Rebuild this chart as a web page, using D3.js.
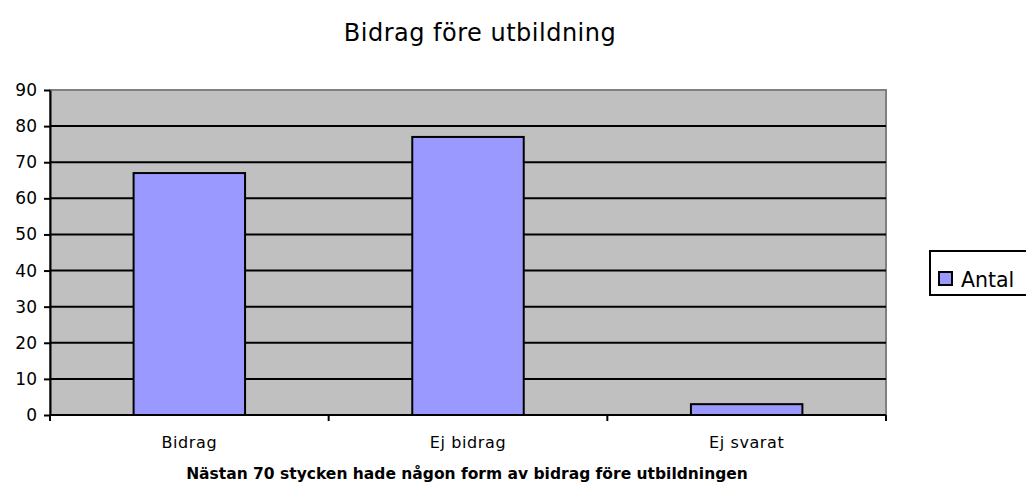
<!DOCTYPE html>
<html>
<head>
<meta charset="utf-8">
<script src="https://cdn.jsdelivr.net/npm/d3@7"></script>
<style>
  body { margin: 0; background: #fff; }
  svg { display: block; font-family: "DejaVu Sans", sans-serif; }
</style>
</head>
<body>
<svg width="1026" height="487"></svg>
<script>
// chart data
let categories = ["Bidrag", "Ej bidrag", "Ej svarat"];
let antal = [67, 77, 3];
let yTicks = [0, 10, 20, 30, 40, 50, 60, 70, 80, 90];
let title = "Bidrag före utbildning";
let caption = "Nästan 70 stycken hade någon form av bidrag före utbildningen";
let seriesName = "Antal";

let svg = d3.select("svg");

let plot = { left: 50, right: 886, top: 90, bottom: 415 };

let x = d3.scaleBand()
    .domain(categories)
    .range([plot.left, plot.right])
    .paddingInner(0)
    .paddingOuter(0);

let y = d3.scaleLinear()
    .domain([0, 90])
    .range([plot.bottom, plot.top]);

// plot background
svg.append("rect")
    .attr("x", plot.left)
    .attr("y", plot.top)
    .attr("width", plot.right - plot.left)
    .attr("height", plot.bottom - plot.top)
    .attr("fill", "#c0c0c0")
    .attr("stroke", "#808080")
    .attr("stroke-width", 2);

// gridlines
svg.append("g")
    .selectAll("line")
    .data(yTicks.filter(d => d > 0 && d < 90))
    .enter().append("line")
    .attr("x1", plot.left)
    .attr("x2", plot.right)
    .attr("y1", d => y(d))
    .attr("y2", d => y(d))
    .attr("stroke", "#000")
    .attr("stroke-width", 2);

// bars (gap width 150%)
let barW = x.bandwidth() / 2.5;
svg.append("g")
    .selectAll("rect")
    .data(categories)
    .enter().append("rect")
    .attr("x", d => x(d) + (x.bandwidth() - barW) / 2)
    .attr("y", (d, i) => y(antal[i]))
    .attr("width", barW)
    .attr("height", (d, i) => y(0) - y(antal[i]))
    .attr("fill", "#9999ff")
    .attr("stroke", "#000")
    .attr("stroke-width", 2);

// y axis
let yAxis = svg.append("g")
    .attr("transform", "translate(" + plot.left + ",0)")
    .call(d3.axisLeft(y).tickValues(yTicks).tickSize(6).tickSizeOuter(0));
yAxis.select(".domain").attr("stroke", "#000").attr("stroke-width", 2);
yAxis.selectAll(".tick line").attr("stroke", "#000").attr("stroke-width", 2);
yAxis.selectAll(".tick text")
    .attr("x", -13)
    .attr("font-family", "DejaVu Sans")
    .attr("font-size", 17)
    .attr("fill", "#000");

// x axis, ticks at category boundaries
let xAxis = svg.append("g")
    .attr("transform", "translate(0," + plot.bottom + ")");
xAxis.append("line")
    .attr("x1", plot.left)
    .attr("x2", plot.right)
    .attr("stroke", "#000")
    .attr("stroke-width", 2);
let bounds = categories.map(d => x(d)).concat([plot.right]);
xAxis.selectAll(".btick")
    .data(bounds)
    .enter().append("line")
    .attr("class", "btick")
    .attr("x1", d => d)
    .attr("x2", d => d)
    .attr("y1", 0)
    .attr("y2", 6)
    .attr("stroke", "#000")
    .attr("stroke-width", 2);
xAxis.selectAll("text")
    .data(categories)
    .enter().append("text")
    .attr("x", d => x(d) + x.bandwidth() / 2)
    .attr("y", 33)
    .attr("text-anchor", "middle")
    .attr("font-size", 16)
    .attr("letter-spacing", 0.6)
    .text(d => d);

// title
svg.append("text")
    .attr("x", 480)
    .attr("y", 41)
    .attr("text-anchor", "middle")
    .attr("font-size", 24)
    .attr("letter-spacing", 0.5)
    .text(title);

// caption
svg.append("text")
    .attr("x", 467)
    .attr("y", 479)
    .attr("text-anchor", "middle")
    .attr("font-size", 15.5)
    .attr("font-weight", "bold")
    .text(caption);

// legend
let legend = svg.append("g");
legend.append("rect")
    .attr("x", 930)
    .attr("y", 251)
    .attr("width", 110)
    .attr("height", 44)
    .attr("fill", "#fff")
    .attr("stroke", "#000")
    .attr("stroke-width", 2);
legend.append("rect")
    .attr("x", 939)
    .attr("y", 272)
    .attr("width", 13)
    .attr("height", 13)
    .attr("fill", "#9999ff")
    .attr("stroke", "#000")
    .attr("stroke-width", 2);
legend.append("text")
    .attr("x", 961)
    .attr("y", 287)
    .attr("font-size", 20.5)
    .text(seriesName);
</script>
</body>
</html>
